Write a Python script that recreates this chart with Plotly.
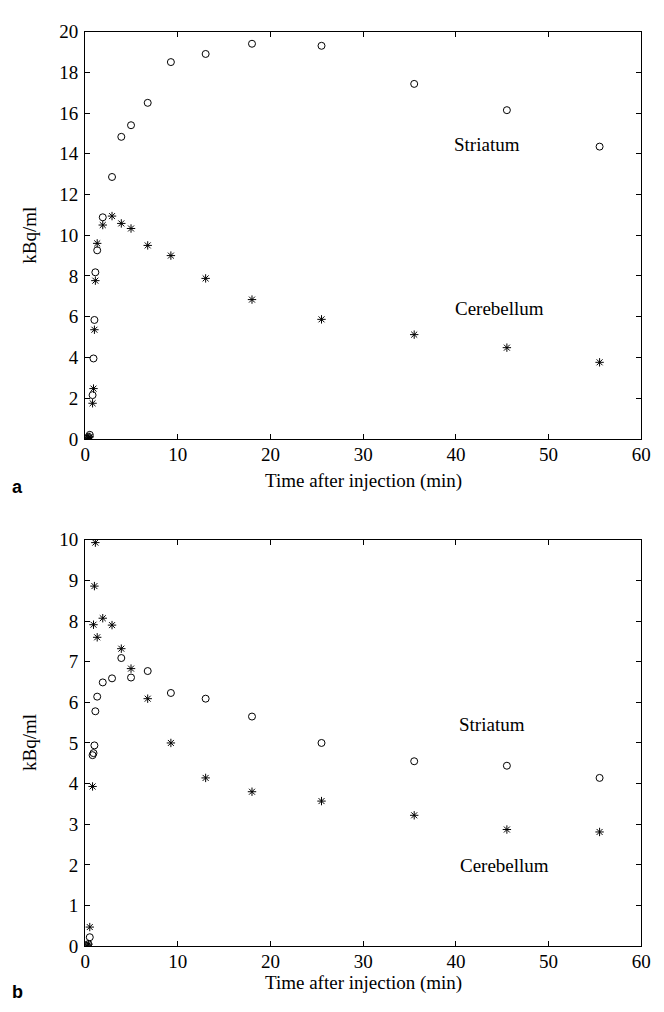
import plotly.graph_objects as go

# ---- data ----
time_min = [0.2, 0.35, 0.5, 0.8, 0.9, 1.0, 1.1, 1.3, 1.9, 2.9, 3.9, 4.95,
            6.75, 9.25, 13.0, 18.0, 25.5, 35.5, 45.5, 55.5]

a_striatum = [0.0, 0.1, 0.2, 2.15, 3.95, 5.84, 8.18, 9.26, 10.88, 12.86, 14.83, 15.4,
              16.5, 18.5, 18.9, 19.4, 19.3, 17.43, 16.14, 14.35]
a_cerebellum = [0.0, 0.05, 0.1, 1.75, 2.47, 5.36, 7.77, 9.6, 10.5, 10.94, 10.58, 10.33,
                9.5, 9.0, 7.88, 6.84, 5.87, 5.12, 4.48, 3.76]

b_striatum = [0.0, 0.05, 0.22, 4.7, 4.75, 4.94, 5.78, 6.14, 6.49, 6.59, 7.09, 6.61,
              6.77, 6.23, 6.09, 5.65, 5.0, 4.55, 4.44, 4.14]
b_cerebellum = [0.0, 0.05, 0.47, 3.93, 7.91, 8.86, 9.93, 7.6, 8.07, 7.9, 7.32, 6.83,
                6.09, 5.0, 4.14, 3.8, 3.57, 3.22, 2.87, 2.81]

x_ticks = [0, 10, 20, 30, 40, 50, 60]
a_y_ticks = [0, 2, 4, 6, 8, 10, 12, 14, 16, 18, 20]
b_y_ticks = [0, 1, 2, 3, 4, 5, 6, 7, 8, 9, 10]

x_title = "Time after injection (min)"
y_title = "kBq/ml"

W, H = 664, 1012
SERIF = "Liberation Serif"
FS = 19

fig = go.Figure()

circ = dict(symbol="circle-open", size=7, color="black", line=dict(width=1, color="black"))
star = dict(symbol="asterisk-open", size=7, color="black", line=dict(width=1, color="black"))

fig.add_trace(go.Scatter(x=time_min, y=a_striatum, mode="markers", marker=circ,
                         xaxis="x", yaxis="y", showlegend=False))
fig.add_trace(go.Scatter(x=time_min, y=a_cerebellum, mode="markers", marker=star,
                         xaxis="x", yaxis="y", showlegend=False))
fig.add_trace(go.Scatter(x=time_min, y=b_striatum, mode="markers", marker=circ,
                         xaxis="x2", yaxis="y2", showlegend=False))
fig.add_trace(go.Scatter(x=time_min, y=b_cerebellum, mode="markers", marker=star,
                         xaxis="x2", yaxis="y2", showlegend=False))

xdom = [82 / W, 651 / W]
top_dom = [(H - 438) / H, (H - 22) / H]
bot_dom = [(H - 956) / H, (H - 541) / H]

common = dict(showline=True, mirror="ticks", linecolor="black", linewidth=1,
              ticks="inside", ticklen=5, tickcolor="black", showgrid=False,
              zeroline=False, tickfont=dict(family=SERIF, size=FS, color="black"))

fig.update_layout(
    width=W, height=H,
    margin=dict(l=0, r=0, t=0, b=0),
    paper_bgcolor="white", plot_bgcolor="white",
    xaxis=dict(domain=xdom, anchor="y", range=[0, 60], tickvals=x_ticks,
               ticklabelstandoff=-2, **common),
    yaxis=dict(domain=top_dom, anchor="x", range=[0, 20], tickvals=a_y_ticks,
               ticklabelstandoff=2, **common),
    xaxis2=dict(domain=xdom, anchor="y2", range=[0, 60], tickvals=x_ticks,
                ticklabelstandoff=-2, **common),
    yaxis2=dict(domain=bot_dom, anchor="x2", range=[0, 10], tickvals=b_y_ticks,
                ticklabelstandoff=2, **common),
)

ann = []
def txt(x, y, s, xref="paper", yref="paper", family=SERIF, size=FS, **kw):
    d = dict(x=x, y=y, text=s, xref=xref, yref=yref, showarrow=False,
             xanchor="center", yanchor="middle",
             font=dict(family=family, size=size, color="black"))
    d.update(kw)
    ann.append(d)

# axis titles
txt(366.5 / W, (H - 481) / H, x_title)
txt(366.5 / W, (H - 994) / H, x_title)
txt(25 / W, (H - 230) / H, y_title, textangle=-90)
txt(25 / W, (H - 748) / H, y_title, textangle=-90)

# region labels
txt(43.4, 14.44, "Striatum", xref="x", yref="y")
txt(44.7, 6.4, "Cerebellum", xref="x", yref="y")
txt(43.9, 5.45, "Striatum", xref="x2", yref="y2")
txt(45.2, 1.98, "Cerebellum", xref="x2", yref="y2")

# panel letters
txt(13 / W, (H - 487) / H, "<b>a</b>", family="Liberation Sans", size=18)
txt(13 / W, (H - 1003) / H, "<b>b</b>", family="Liberation Sans", size=18)

fig.update_layout(annotations=ann)

fig.write_html("out.html",
               config={"displayModeBar": False},
               post_script="document.body.style.margin='0';"
                           "document.body.style.overflow='hidden';")
